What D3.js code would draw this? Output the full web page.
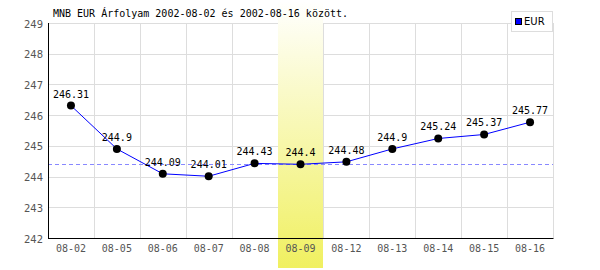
<!DOCTYPE html>
<html>
<head>
<meta charset="utf-8">
<script src="https://cdn.jsdelivr.net/npm/d3@7/dist/d3.min.js"></script>
<style>
body { margin: 0; background: #fff; }
</style>
</head>
<body>
<div id="chart"></div>
<script>
var dates = ["08-02","08-05","08-06","08-07","08-08","08-09","08-12","08-13","08-14","08-15","08-16"];
var rates = [246.31, 244.9, 244.09, 244.01, 244.43, 244.4, 244.48, 244.9, 245.24, 245.37, 245.77];
var yTicks = [242, 243, 244, 245, 246, 247, 248, 249];
var highlightDay = "08-09";
var refValue = 244.4;
var title = "MNB EUR Árfolyam 2002-08-02 és 2002-08-16 között.";

var W = 600, H = 270;
var m = {left: 48, right: 47, top: 23, bottom: 32};

var svg = d3.select("#chart").append("svg").attr("width", W).attr("height", H);

var x = d3.scaleBand().domain(dates).range([m.left, W - m.right]);
var y = d3.scaleLinear().domain([242, 249]).range([H - m.bottom, m.top]);

// grid
svg.selectAll("line.hg").data(yTicks.slice(1)).enter().append("line")
  .attr("x1", m.left).attr("x2", W - m.right)
  .attr("y1", function(d){ return Math.round(y(d)) + 0.5; })
  .attr("y2", function(d){ return Math.round(y(d)) + 0.5; })
  .attr("stroke", "#dddddd");
svg.selectAll("line.vg").data(dates).enter().append("line")
  .attr("x1", function(d){ return Math.round(x(d) + x.bandwidth()) + 0.5; })
  .attr("x2", function(d){ return Math.round(x(d) + x.bandwidth()) + 0.5; })
  .attr("y1", m.top).attr("y2", H - m.bottom)
  .attr("stroke", "#dddddd");

// yellow highlight (over the grid)
var grad = svg.append("defs").append("linearGradient")
  .attr("id", "hl").attr("x1", 0).attr("x2", 0).attr("y1", 0).attr("y2", 1);
grad.append("stop").attr("offset", "0%").attr("stop-color", "#ffffff");
grad.append("stop").attr("offset", "100%").attr("stop-color", "#f0f060");
svg.append("rect")
  .attr("x", Math.round(x(highlightDay))).attr("y", 1)
  .attr("width", Math.floor(x.bandwidth())).attr("height", 267)
  .attr("fill", "url(#hl)");

// reference dashed line
svg.append("line")
  .attr("x1", m.left).attr("x2", W - m.right)
  .attr("y1", Math.round(y(refValue)) + 0.5).attr("y2", Math.round(y(refValue)) + 0.5)
  .attr("stroke", "#8888ff").attr("stroke-dasharray", "4,3");

// axes
svg.append("line").attr("x1", m.left + 0.5).attr("x2", m.left + 0.5)
  .attr("y1", m.top).attr("y2", H - m.bottom + 0.5).attr("stroke", "#000");
svg.append("line").attr("x1", m.left).attr("x2", W - m.right + 0.5)
  .attr("y1", H - m.bottom + 0.5).attr("y2", H - m.bottom + 0.5).attr("stroke", "#000");

svg.selectAll("text.yl").data(yTicks).enter().append("text")
  .attr("x", m.left - 5).attr("y", function(d){ return y(d) + 4.5; })
  .attr("text-anchor", "end")
  .attr("font-family", "DejaVu Sans").attr("font-size", 10).attr("fill", "#555")
  .text(function(d){ return d; });

svg.selectAll("text.xl").data(dates).enter().append("text")
  .attr("x", function(d){ return x(d) + x.bandwidth() / 2; })
  .attr("y", H - m.bottom + 14)
  .attr("text-anchor", "middle")
  .attr("font-family", "DejaVu Sans Mono").attr("font-size", 10).attr("fill", "#555")
  .text(function(d){ return d; });

// line + points
var line = d3.line()
  .x(function(d, i){ return x(dates[i]) + x.bandwidth() / 2; })
  .y(function(d){ return y(d); });
svg.append("path").datum(rates).attr("d", line)
  .attr("fill", "none").attr("stroke", "#0000ff").attr("stroke-width", 1);

svg.selectAll("circle.pt").data(rates).enter().append("circle")
  .attr("cx", function(d, i){ return x(dates[i]) + x.bandwidth() / 2; })
  .attr("cy", function(d){ return y(d); })
  .attr("r", 4).attr("fill", "#000");

svg.selectAll("text.vl").data(rates).enter().append("text")
  .attr("x", function(d, i){ return x(dates[i]) + x.bandwidth() / 2; })
  .attr("y", function(d){ return y(d) - 8; })
  .attr("text-anchor", "middle")
  .attr("font-family", "DejaVu Sans Mono").attr("font-size", 10).attr("fill", "#000")
  .text(function(d){ return d; });

// title
svg.append("text").attr("x", 53).attr("y", 17)
  .attr("font-family", "DejaVu Sans Mono").attr("font-size", 10).attr("fill", "#000")
  .text(title);

// legend
var lg = svg.append("g");
lg.append("rect").attr("x", 511.5).attr("y", 11.5).attr("width", 41).attr("height", 20)
  .attr("fill", "#fff").attr("stroke", "#dddddd");
lg.append("rect").attr("x", 515.5).attr("y", 18.5).attr("width", 6).attr("height", 6)
  .attr("fill", "#0000ff").attr("stroke", "#000");
lg.append("text").attr("x", 524).attr("y", 25)
  .attr("font-family", "DejaVu Sans").attr("font-size", 10).attr("fill", "#000")
  .text("EUR");
</script>
</body>
</html>
